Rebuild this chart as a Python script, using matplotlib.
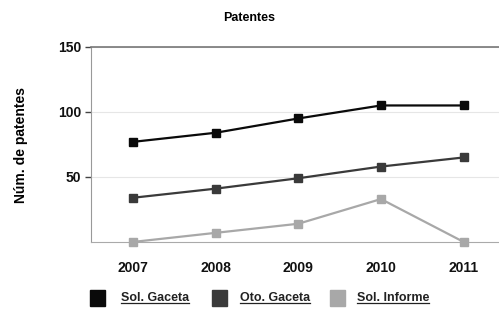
import matplotlib
matplotlib.use("Agg")
import matplotlib.pyplot as plt
from matplotlib.patches import Rectangle
from matplotlib.lines import Line2D

plt.rcParams['font.family'] = ['Liberation Sans', 'DejaVu Sans']

years = ["2007", "2008", "2009", "2010", "2011"]
sol_gaceta = [77, 84, 95, 105, 105]
oto_gaceta = [34, 41, 49, 58, 65]
sol_informe = [0, 7, 14, 33, 0]
series_names = ["Sol. Gaceta", "Oto. Gaceta", "Sol. Informe"]
colors = ["#0a0a0a", "#3a3a3a", "#a8a8a8"]

fig = plt.figure(figsize=(4.99, 3.09), dpi=100)
ax = fig.add_axes([0.182, 0.217, 0.83, 0.631])
x = list(range(len(years)))
for vals, c in zip([sol_gaceta, oto_gaceta, sol_informe], colors):
    ax.plot(x, vals, color=c, lw=1.6, marker='s', ms=6, mec=c, mfc=c, clip_on=False, zorder=3)

ax.set_xlim(-0.51, 4.5)
ax.set_ylim(0, 150)
ax.set_yticks([50, 100, 150])
ax.set_xticks(x)
ax.set_xticklabels(years)
ax.tick_params(axis='y', length=4, width=1, color='#444444', labelsize=10, pad=3)
ax.tick_params(axis='x', length=0, labelsize=10, pad=14)
for lab in ax.get_xticklabels() + ax.get_yticklabels():
    lab.set_fontweight('bold')
    lab.set_color('#111111')
ax.grid(axis='y', color='#e6e6e6', lw=0.8)
ax.set_axisbelow(True)
ax.spines['right'].set_visible(False)
ax.spines['top'].set_color('#777777')
ax.spines['left'].set_color('#999999')
ax.spines['bottom'].set_color('#aaaaaa')
ax.spines['top'].set_linewidth(1.2)

fig.text(0.5, 0.942, "Patentes", ha='center', va='center', fontsize=9, fontweight='bold')
fig.text(0.042, 0.53, "Núm. de patentes", rotation=90, ha='center', va='center', fontsize=10, fontweight='bold')

# legend
sq_x = [90, 212, 330]
tx_x = [121, 240, 357]
yc = 1 - 298 / 309
fig.canvas.draw()
r = fig.canvas.get_renderer()
for name, c, sx, tx in zip(series_names, colors, sq_x, tx_x):
    fig.add_artist(Rectangle((sx / 499, yc - 8 / 309), 15 / 499, 16 / 309, color=c, transform=fig.transFigure))
    t = fig.text(tx / 499, yc, name, ha='left', va='center', fontsize=9, fontweight='bold', color='#222222')
    bb = t.get_window_extent(renderer=r)
    uy = (bb.y0 + 1) / 309
    fig.add_artist(Line2D([bb.x0 / 499, bb.x1 / 499], [uy, uy], color='#222222', lw=0.9, transform=fig.transFigure))

fig.savefig("out.png", dpi=100)
